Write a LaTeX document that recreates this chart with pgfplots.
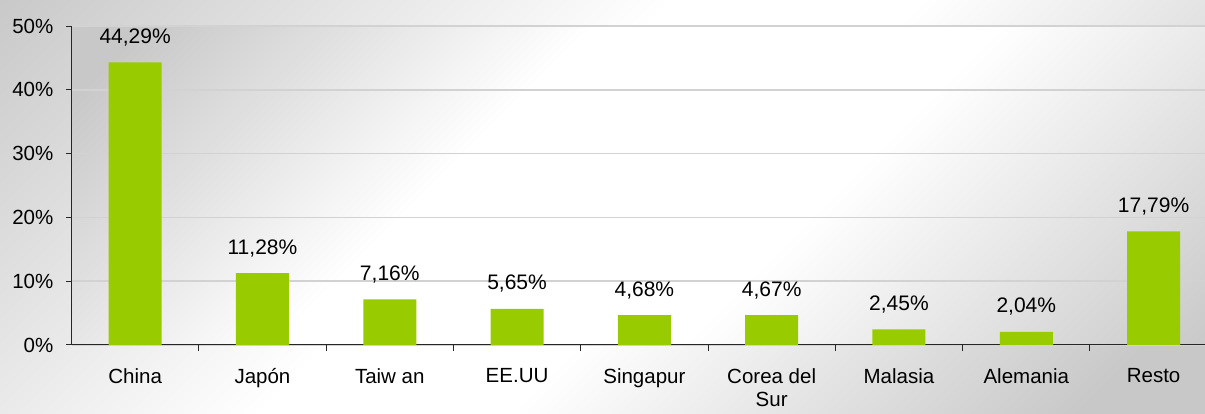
\documentclass[border=0pt]{standalone}
\usepackage{pgfplots}
\pgfplotsset{compat=1.18}
\usepackage{fontspec}
\setmainfont{Liberation Sans}
\definecolor{bargreen}{RGB}{153,204,0}
\definecolor{gridc}{RGB}{210,210,210}
\definecolor{bgdark}{RGB}{200,200,200}
\pgfdeclarehorizontalshading{bgshade}{100bp}{color(0bp)=(bgdark); color(14bp)=(bgdark); color(44bp)=(white); color(55bp)=(white); color(80bp)=(bgdark); color(100bp)=(bgdark)}
\pgfdeclarehorizontalshading{plotshade}{100bp}{color(0bp)=(bgdark); color(18bp)=(bgdark); color(40bp)=(white); color(60bp)=(white); color(86bp)=(bgdark); color(100bp)=(bgdark)}
\begin{document}
\begin{tikzpicture}[x=1pt,y=1pt]
\shade[shading=bgshade, shading angle=-45] (0,0) rectangle (1205,414);
\shade[shading=plotshade, shading angle=-45] (71.5,69) rectangle (1205,388);
\begin{axis}[
  at={(71.5pt,69pt)}, anchor=south west,
  scale only axis, width=1133.5pt, height=319pt,
  xmin=-0.5, xmax=8.404, ymin=0, ymax=50,
  ytick={0,10,20,30,40,50},
  yticklabel={\pgfmathprintnumber[assume math mode=true]{\tick}\%},
  ymajorgrids, major grid style={gridc, line width=1.5pt},
  axis x line*=bottom, axis y line*=left,
  axis line style={-, black!85, line width=1pt},
  tick align=outside,
  xtick={0,1,2,3,4,5,6,7,8},
  xticklabels={China, Japón, Taiw an, EE.UU, Singapur, {Corea del\\Sur}, Malasia, Alemania, Resto},
  minor xtick={0.5,1.5,2.5,3.5,4.5,5.5,6.5,7.5},
  major x tick style={draw=none},
  minor x tick style={black!85, line width=1pt},
  minor tick length=6pt,
  major y tick style={black!85, line width=1pt},
  major tick length=5pt,
  xticklabel style={font=\fontsize{20.5}{23.5}\selectfont, align=center, inner sep=0pt, anchor=north, yshift=-18pt},
  yticklabel style={font=\fontsize{20.5}{24}\selectfont, anchor=east, inner sep=0pt, xshift=-13pt},
  ybar, bar width=53pt,
  nodes near coords={\pgfmathprintnumber[fixed,fixed zerofill,precision=2,use comma,assume math mode=true]{\pgfplotspointmeta}\%},
  every node near coord/.append style={anchor=base, yshift=19pt, font=\fontsize{21}{25}\selectfont, text=black, inner sep=0pt},
]
\addplot[fill=bargreen, draw=none] coordinates {(0,44.29) (1,11.28) (2,7.16) (3,5.65) (4,4.68) (5,4.67) (6,2.45) (7,2.04) (8,17.79)};
\end{axis}
\pgfresetboundingbox
\useasboundingbox (0,0) rectangle (1205,414);
\end{tikzpicture}
\end{document}
